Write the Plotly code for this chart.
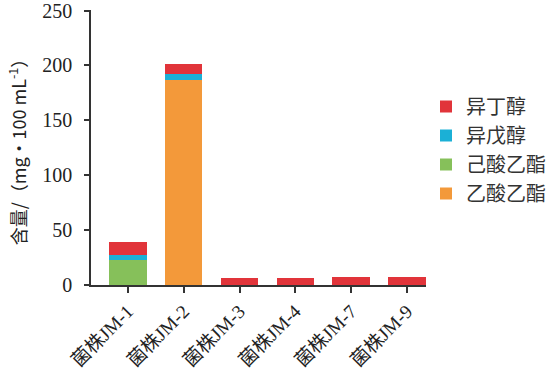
import plotly.graph_objects as go

categories = ["菌株JM-1", "菌株JM-2", "菌株JM-3", "菌株JM-4", "菌株JM-7", "菌株JM-9"]
ethyl_acetate = [0, 187, 0, 0, 0, 0]        # 乙酸乙酯
ethyl_hexanoate = [22.5, 0, 0, 0, 0, 0]     # 己酸乙酯
isoamyl_alcohol = [4.5, 5, 0, 0, 0, 0]      # 异戊醇
isobutanol = [12, 9, 6.6, 6.0, 7.3, 7.0]    # 异丁醇
y_ticks = [0, 50, 100, 150, 200, 250]

serif = "Liberation Serif, Times New Roman, Noto Sans CJK SC"
cjk = "Noto Sans CJK SC, Liberation Serif"

fig = go.Figure()
series = [
    ("乙酸乙酯", ethyl_acetate, "#f3993a"),
    ("己酸乙酯", ethyl_hexanoate, "#86c05a"),
    ("异戊醇", isoamyl_alcohol, "#1bb0d6"),
    ("异丁醇", isobutanol, "#e1343a"),
]
for name, vals, color in series:
    fig.add_trace(go.Bar(x=list(range(len(categories))), y=vals, name=name,
                         marker=dict(color=color, line=dict(width=0)), width=0.67))

fig.update_layout(
    barmode="stack",
    width=554, height=382,
    margin=dict(l=91, r=128, t=10, b=97, autoexpand=False),
    plot_bgcolor="white", paper_bgcolor="white",
    showlegend=True,
    legend=dict(x=1.0, y=0.72, xanchor="left", yanchor="top",
                traceorder="reversed", font=dict(family=cjk, size=20, color="#333"),
                itemwidth=30, tracegroupgap=0, bgcolor="rgba(0,0,0,0)"),
)
fig.update_xaxes(
    tickmode="array", tickvals=list(range(len(categories))), ticktext=categories,
    range=[-0.66, 5.34], showline=True, linecolor="#333", linewidth=1.5,
    ticks="outside", ticklen=6, tickwidth=1.5, tickcolor="#333", tickangle=-45,
    tickfont=dict(family=serif, size=19, color="#222"), showgrid=False, zeroline=False,
    automargin=False,
)
fig.update_yaxes(
    range=[0, 250.5], tickvals=y_ticks, showline=True, linecolor="#333", linewidth=1.5,
    ticks="outside", ticklen=5, tickwidth=1.5, tickcolor="#333", ticklabelstandoff=8,
    ticklabeloverflow="allow",
    tickfont=dict(family=serif, size=20, color="#222"), showgrid=False, zeroline=False,
    automargin=False,
    title=dict(text="含量/（mg•100 mL<sup>-1</sup>）", font=dict(family=cjk, size=18, color="#222"), standoff=11),
)
fig.write_html("out.html", config={"displayModeBar": False},
               post_script="document.body.style.margin='0';document.body.style.padding='0';")
